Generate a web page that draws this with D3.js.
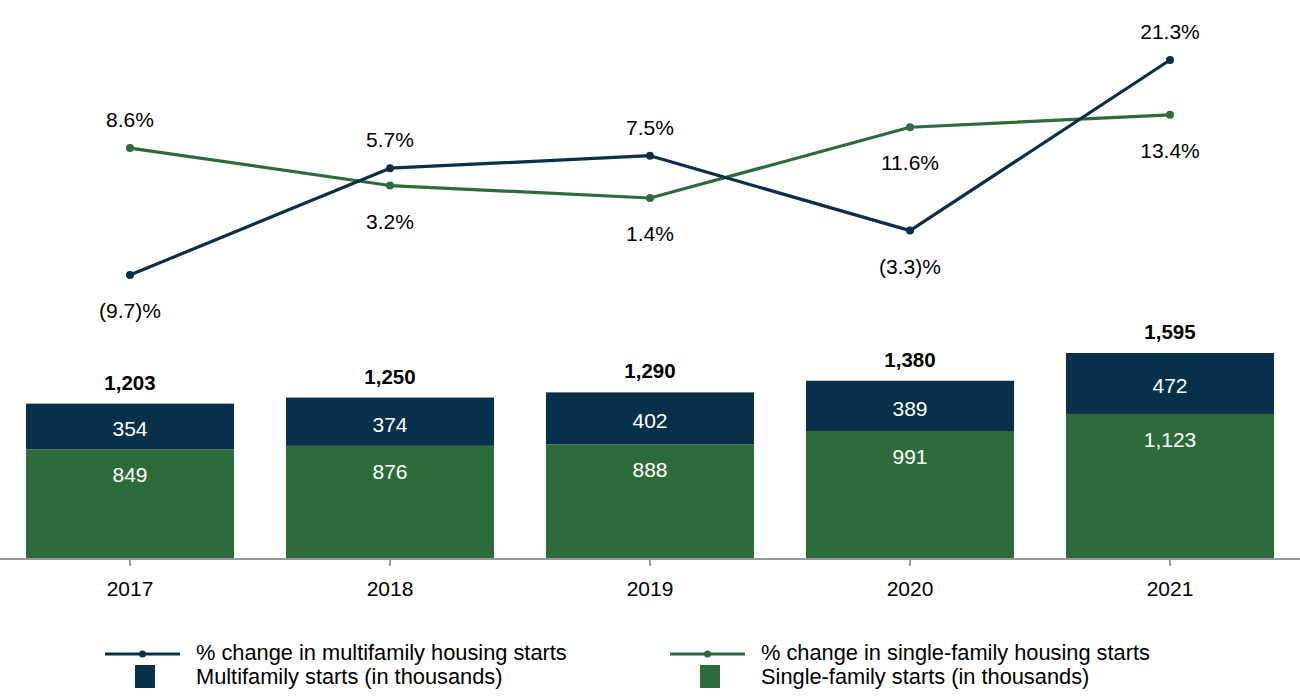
<!DOCTYPE html>
<html>
<head>
<meta charset="utf-8">
<script src="https://cdn.jsdelivr.net/npm/d3@7"></script>
<style>
  body { margin: 0; background: #fff; }
  svg { display: block; font-family: "Liberation Sans", Arial, sans-serif; }
</style>
</head>
<body>
<div id="chart"></div>
<script>
// data
const years = ["2017", "2018", "2019", "2020", "2021"];
const singleStarts = [849, 876, 888, 991, 1123];
const multiStarts = [354, 374, 402, 389, 472];
const totalStarts = [1203, 1250, 1290, 1380, 1595];
const multiChange = [-9.7, 5.7, 7.5, -3.3, 21.3];
const singleChange = [8.6, 3.2, 1.4, 11.6, 13.4];

// label placement for the % labels: 1 = above point, -1 = below
const multiSide = [-1, 1, 1, -1, 1];
const singleSide = [1, -1, -1, -1, -1];

const navy = "#08304b";
const green = "#2e6b3a";
const fontSize = "21px";

const width = 1300, height = 700;
const baseY = 559;

const svg = d3.select("#chart")
  .append("svg")
  .attr("width", width)
  .attr("height", height);

// x scale shared by bars and lines
const x = d3.scaleBand()
  .domain(years)
  .range([0, width])
  .paddingInner(0.2)
  .paddingOuter(0.1);

// bars scale (thousands)
const yBar = d3.scaleLinear().domain([0, 1595]).range([baseY, 353]);

// lines scale (percent)
const yPct = d3.scaleLinear().domain([-9.7, 21.3]).range([275, 60]);

const fmtNum = d3.format(",");
const fmtPct = v => v < 0 ? "(" + d3.format(".1f")(-v) + ")%" : d3.format(".1f")(v) + "%";

// stacked bars
const rows = years.map((yr, i) => ({ year: yr, single: singleStarts[i], multi: multiStarts[i], total: totalStarts[i] }));

const barG = svg.append("g");
barG.selectAll(".single")
  .data(rows)
  .enter().append("rect")
  .attr("class", "single")
  .attr("x", d => x(d.year))
  .attr("y", d => yBar(d.single))
  .attr("width", x.bandwidth())
  .attr("height", d => baseY - yBar(d.single))
  .attr("fill", green);

barG.selectAll(".multi")
  .data(rows)
  .enter().append("rect")
  .attr("class", "multi")
  .attr("x", d => x(d.year))
  .attr("y", d => yBar(d.single + d.multi))
  .attr("width", x.bandwidth())
  .attr("height", d => yBar(d.single) - yBar(d.single + d.multi))
  .attr("fill", navy);

// bar labels
const cx = d => x(d.year) + x.bandwidth() / 2;
barG.selectAll(".multiLbl")
  .data(rows)
  .enter().append("text")
  .attr("x", cx)
  .attr("y", d => (yBar(d.single) + yBar(d.single + d.multi)) / 2 + 10)
  .attr("text-anchor", "middle")
  .attr("fill", "#fff")
  .style("font-size", fontSize)
  .text(d => fmtNum(d.multi));

barG.selectAll(".singleLbl")
  .data(rows)
  .enter().append("text")
  .attr("x", cx)
  .attr("y", d => yBar(d.single) + 33)
  .attr("text-anchor", "middle")
  .attr("fill", "#fff")
  .style("font-size", fontSize)
  .text(d => fmtNum(d.single));

barG.selectAll(".totalLbl")
  .data(rows)
  .enter().append("text")
  .attr("x", cx)
  .attr("y", d => yBar(d.total) - 14)
  .attr("text-anchor", "middle")
  .attr("fill", "#000")
  .style("font-size", "20.5px")
  .style("font-weight", "bold")
  .text(d => fmtNum(d.total));

// x axis
const xAxis = d3.axisBottom(x).tickSize(7).tickSizeOuter(0).tickPadding(15);
const axG = svg.append("g")
  .attr("transform", "translate(0," + baseY + ")")
  .call(xAxis);
axG.select(".domain").attr("stroke", "#999").attr("stroke-width", 2).attr("d", "M0,0H" + width);
axG.selectAll(".tick line").attr("stroke", "#999").attr("stroke-width", 2);
axG.selectAll(".tick text")
  .attr("fill", "#000")
  .style("font-size", fontSize)
  .style("font-family", "Liberation Sans, Arial, sans-serif");

// lines
function drawSeries(values, color, side) {
  const pts = years.map((yr, i) => ({ year: yr, v: values[i], side: side[i] }));
  const line = d3.line()
    .x(d => x(d.year) + x.bandwidth() / 2)
    .y(d => yPct(d.v));
  svg.append("path")
    .datum(pts)
    .attr("d", line)
    .attr("fill", "none")
    .attr("stroke", color)
    .attr("stroke-width", 3.2)
    .attr("stroke-linejoin", "round");
  svg.append("g").selectAll("circle")
    .data(pts)
    .enter().append("circle")
    .attr("cx", d => x(d.year) + x.bandwidth() / 2)
    .attr("cy", d => yPct(d.v))
    .attr("r", 4)
    .attr("fill", color);
  svg.append("g").selectAll("text")
    .data(pts)
    .enter().append("text")
    .attr("x", d => x(d.year) + x.bandwidth() / 2)
    .attr("y", d => d.side > 0 ? yPct(d.v) - 21 : yPct(d.v) + 43)
    .attr("text-anchor", "middle")
    .attr("fill", "#000")
    .style("font-size", fontSize)
    .text(d => fmtPct(d.v));
}
drawSeries(singleChange, green, singleSide);
drawSeries(multiChange, navy, multiSide);

// legend
const legendItems = [
  { x: 105, color: navy, lineLabel: "% change in multifamily housing starts", boxLabel: "Multifamily starts (in thousands)" },
  { x: 670, color: green, lineLabel: "% change in single-family housing starts", boxLabel: "Single-family starts (in thousands)" }
];
const leg = svg.append("g").selectAll("g")
  .data(legendItems)
  .enter().append("g")
  .attr("transform", d => "translate(" + d.x + ",0)");
leg.append("line")
  .attr("x1", 0).attr("x2", 75)
  .attr("y1", 654).attr("y2", 654)
  .attr("stroke", d => d.color)
  .attr("stroke-width", 3.2);
leg.append("circle")
  .attr("cx", 37.5).attr("cy", 654).attr("r", 3.5)
  .attr("fill", d => d.color);
leg.append("rect")
  .attr("x", 30).attr("y", 665)
  .attr("width", 20).attr("height", 23)
  .attr("fill", d => d.color);
leg.append("text")
  .attr("x", 91).attr("y", 660)
  .style("font-size", "21.8px")
  .attr("fill", "#000")
  .text(d => d.lineLabel);
leg.append("text")
  .attr("x", 91).attr("y", 684)
  .style("font-size", "21.8px")
  .attr("fill", "#000")
  .text(d => d.boxLabel);
</script>
</body>
</html>
